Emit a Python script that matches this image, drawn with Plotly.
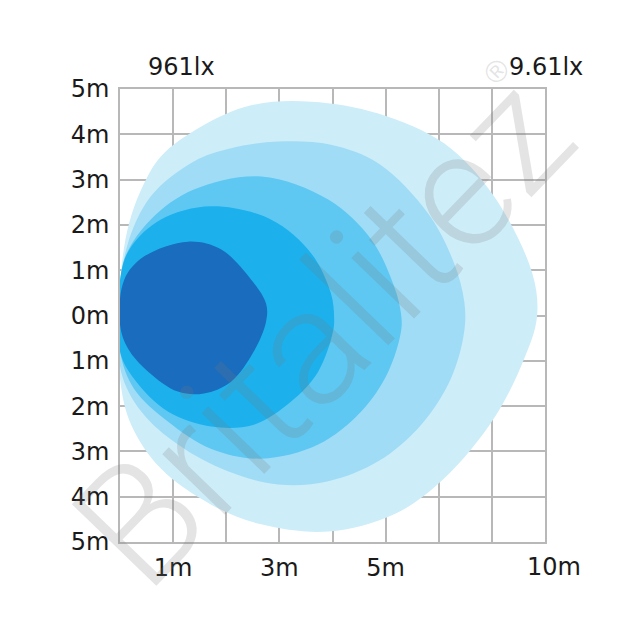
import plotly.graph_objects as go

# Isolux contour outlines (x in grid columns from lamp, y in metres)
l1_x = [0.00, 0.21, 0.77, 1.71, 2.66, 3.92, 5.16, 6.10, 7.04, 7.61, 7.85, 7.76, 7.04, 6.10, 4.86, 3.60, 2.47, 1.53, 0.77, 0.40, 0.17, 0.04, 0.00]
l1_y = [-1.39, -2.41, -3.38, -4.17, -4.61, -4.77, -4.39, -3.60, -2.27, -0.95, -0.02, 0.93, 2.63, 3.80, 4.46, 4.72, 4.64, 4.17, 3.51, 2.78, 2.03, 1.19, 0.31]

l2_x = [0.02, 0.40, 1.09, 2.03, 2.98, 3.92, 4.86, 5.67, 6.23, 6.48, 6.48, 6.29, 5.80, 4.86, 3.97, 2.98, 2.09, 1.39, 0.58, 0.13, 0.00]
l2_y = [-1.24, -2.12, -2.85, -3.44, -3.73, -3.66, -3.22, -2.41, -1.39, -0.35, 0.31, 1.15, 2.25, 3.36, 3.77, 3.84, 3.69, 3.40, 2.63, 1.52, 0.31]

l3_x = [0.00, 0.26, 0.90, 1.71, 2.66, 3.73, 4.54, 5.05, 5.29, 5.29, 5.16, 4.73, 3.92, 2.66, 1.39, 0.58, 0.08, 0.00]
l3_y = [-0.79, -1.61, -2.34, -2.94, -3.16, -2.85, -2.12, -1.24, -0.35, 0.04, 0.64, 1.68, 2.56, 3.07, 2.78, 2.12, 1.24, 0.31]

l4_x = [0.00, 0.26, 0.90, 1.71, 2.52, 3.22, 3.73, 4.01, 4.03, 3.97, 3.60, 2.84, 1.71, 0.77, 0.21, 0.02]
l4_y = [-0.79, -1.39, -2.12, -2.45, -2.41, -1.90, -1.24, -0.35, -0.02, 0.49, 1.37, 2.12, 2.41, 2.12, 1.52, 0.93]

l5_x = [0.00, 0.15, 0.53, 1.09, 1.58, 2.09, 2.52, 2.75, 2.75, 2.47, 1.90, 1.28, 0.45, 0.08]
l5_y = [-0.20, -0.73, -1.24, -1.68, -1.72, -1.46, -0.79, -0.13, 0.26, 0.79, 1.46, 1.63, 1.30, 0.79]

colors = ["#cdedf9", "#a0dcf6", "#5ec8f2", "#1cb1ec", "#1a6cbf"]

y_ticks = [-5, -4, -3, -2, -1, 0, 1, 2, 3, 4, 5]
y_text = [f"{abs(v)}m" for v in y_ticks]
x_grid = [0, 1, 2, 3, 4, 5, 6, 7, 8]
x_tick_vals = [1, 3, 5]
x_tick_text = ["1m", "3m", "5m"]
x_end_label = "10m"
lux_max = "961lx"
lux_min = "9.61lx"

fig = go.Figure()
for xs, ys, c in zip([l1_x, l2_x, l3_x, l4_x, l5_x], [l1_y, l2_y, l3_y, l4_y, l5_y], colors):
    fig.add_trace(go.Scatter(
        x=xs + [xs[0]], y=ys + [ys[0]], mode="lines", fill="toself",
        fillcolor=c, line=dict(color=c, width=0, shape="spline", smoothing=1.0),
        hoverinfo="skip", showlegend=False))

font = dict(family="DejaVu Sans, sans-serif", size=24, color="#1a1a1a")
wm_color = "rgba(120,120,120,0.2)"

fig.update_layout(
    width=640, height=640,
    margin=dict(l=112, r=103, t=81, b=106),
    paper_bgcolor="white", plot_bgcolor="white",
    xaxis=dict(range=[0, 8], tickvals=x_grid,
               ticktext=[x_tick_text[x_tick_vals.index(v)] if v in x_tick_vals else "" for v in x_grid],
               showgrid=True, gridcolor="#b8b8b8", gridwidth=1.5,
               showline=True, linecolor="#b8b8b8", linewidth=1.5, mirror=True,
               zeroline=False, layer="below traces", tickfont=font,
               ticks="", ticklabelstandoff=3, fixedrange=True),
    yaxis=dict(range=[-5, 5], tickvals=y_ticks, ticktext=y_text,
               showgrid=True, gridcolor="#b8b8b8", gridwidth=1.5,
               showline=True, linecolor="#b8b8b8", linewidth=1.5, mirror=True,
               zeroline=False, layer="below traces", tickfont=font,
               ticks="", ticklabelstandoff=4, fixedrange=True),
    annotations=[
        dict(text=x_end_label, x=8, y=-5, xref="x", yref="y", showarrow=False,
             xanchor="center", yanchor="middle", xshift=9, yshift=-25, font=font),
        dict(text=lux_max, x=(180 - 119) / 425, y=(541 - 66) / 453, xref="paper", yref="paper",
             xanchor="center", yanchor="middle", showarrow=False, font=font),
        dict(text=lux_min, x=(545 - 119) / 425, y=(541 - 66) / 453, xref="paper", yref="paper",
             xanchor="center", yanchor="middle", showarrow=False, font=font),
        dict(text="Britalitez", x=(322 - 119) / 425, y=(541 - 330) / 453, xref="paper", yref="paper",
             xanchor="center", yanchor="middle", showarrow=False, textangle=-46,
             font=dict(family="Roboto, Liberation Sans, sans-serif", size=165, weight=300, color=wm_color)),
        dict(text="®", x=(495 - 119) / 425, y=(541 - 70) / 453, xref="paper", yref="paper",
             xanchor="center", yanchor="middle", showarrow=False, textangle=-46,
             font=dict(family="Liberation Sans, Arial, sans-serif", size=30, color=wm_color)),
    ],
)

fig.write_html("out.html")
